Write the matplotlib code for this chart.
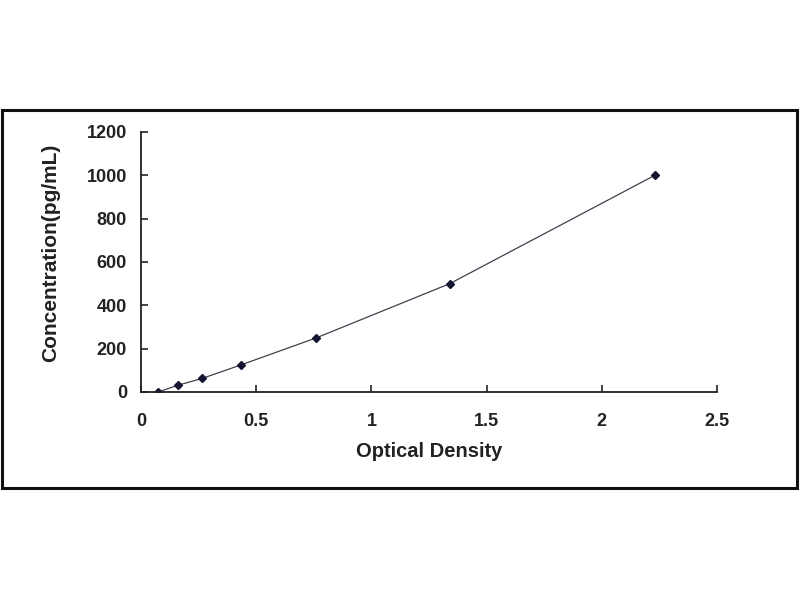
import matplotlib.pyplot as plt
from matplotlib.patches import Rectangle

# standard curve data
od = [0.074, 0.16, 0.265, 0.434, 0.761, 1.34, 2.23]
conc = [0, 31.25, 62.5, 125, 250, 500, 1000]

x_ticks = [0, 0.5, 1, 1.5, 2, 2.5]
x_tick_labels = ["0", "0.5", "1", "1.5", "2", "2.5"]
y_ticks = [0, 200, 400, 600, 800, 1000, 1200]

plt.rcParams["font.family"] = ["Liberation Sans", "DejaVu Sans"]
plt.rcParams["font.weight"] = "bold"

fig = plt.figure(figsize=(8, 6), dpi=100)

# outer frame
fig.patches.append(Rectangle((2 / 800, 1 - 488 / 600), 795 / 800, 378 / 600,
                             transform=fig.transFigure, fill=False,
                             edgecolor="#111111", linewidth=2.2))

ax = fig.add_axes([141 / 800, 1 - 392 / 600, 576 / 800, 260 / 600])

ax.plot(od, conc, color="#40404e", linewidth=0.9,
        marker="D", markersize=3.8, markerfacecolor="#141430",
        markeredgecolor="#141430")

ax.set_xlim(0, 2.5)
ax.set_ylim(0, 1200)
ax.set_xticks(x_ticks)
ax.set_xticklabels(x_tick_labels)
ax.set_yticks(y_ticks)

ax.spines["top"].set_visible(False)
ax.spines["right"].set_visible(False)
for s in ["left", "bottom"]:
    ax.spines[s].set_linewidth(1.3)
    ax.spines[s].set_color("#222222")

ax.tick_params(axis="x", direction="in", length=5, width=1.2,
               pad=15, labelsize=13, colors="#222222")
ax.tick_params(axis="y", direction="in", length=5, width=1.2,
               pad=10, labelsize=13, colors="#222222")
for lbl in ax.get_xticklabels() + ax.get_yticklabels():
    lbl.set_fontweight("bold")

ax.set_xlabel("Optical Density", fontsize=14.5, fontweight="bold",
              labelpad=9, color="#222222")
ax.set_ylabel("Concentration(pg/mL)", fontsize=15, fontweight="bold",
              color="#222222")
ax.yaxis.set_label_coords(-0.141, 0.535)

fig.savefig("out.png", dpi=100)
